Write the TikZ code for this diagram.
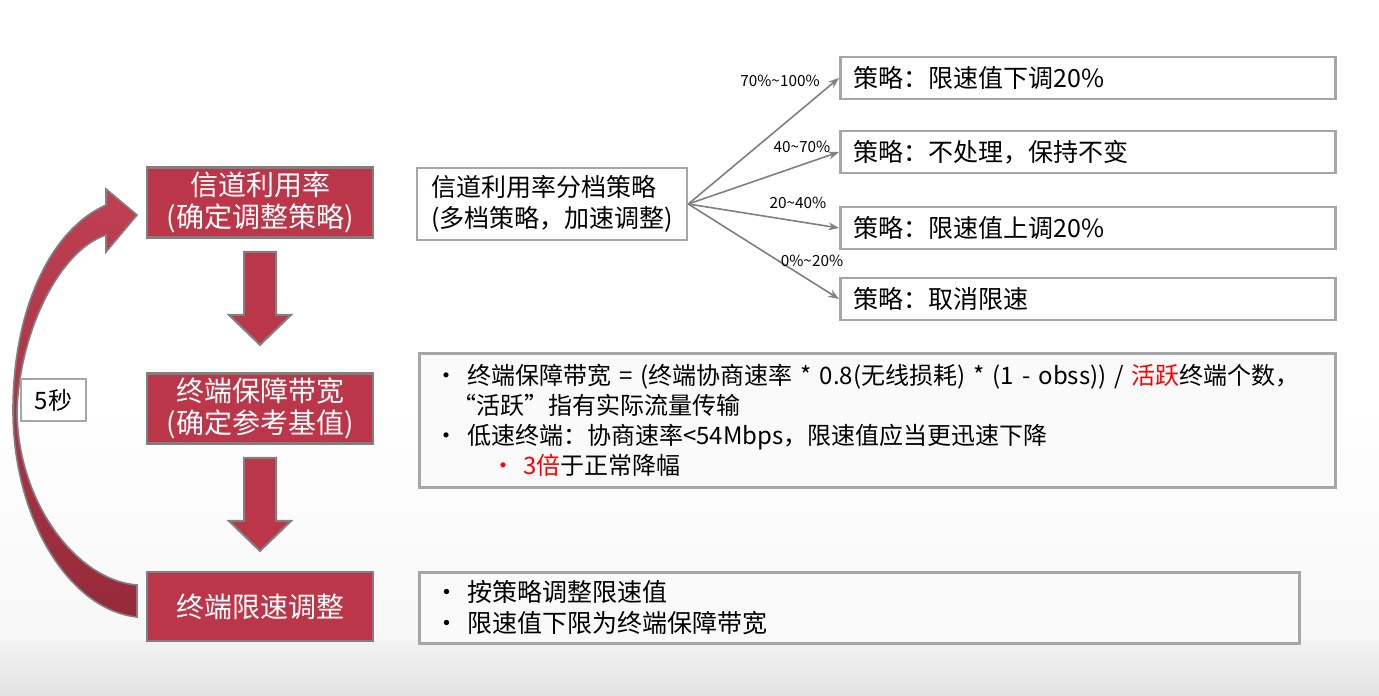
\documentclass[tikz,border=0pt]{standalone}
\usepackage{fontspec}
\setmainfont{Noto Sans CJK SC}
\usetikzlibrary{arrows.meta}
\definecolor{stagered}{RGB}{188,54,73}
\definecolor{stagereddark}{RGB}{150,42,58}
\definecolor{frame}{RGB}{128,128,128}
\definecolor{boxline}{RGB}{166,166,166}
\begin{document}
\begin{tikzpicture}[x=0.75pt, y=-0.75pt,
  stagebox/.style={draw=frame, line width=2pt, fill=stagered, text=white,
    minimum width=169.5pt, minimum height=51.75pt, align=center,
    font=\fontsize{21}{24}\selectfont},
  infobox/.style={draw=boxline, line width=2pt, fill=white, text=black, align=left,
    font=\fontsize{18.75}{23.25}\selectfont},
  rulebox/.style={infobox, minimum width=371.25pt, minimum height=31.5pt,
    text width=351.75pt, inner xsep=9.75pt, anchor=west},
  tierarrow/.style={-{Stealth[length=8pt,width=6pt]}, draw=frame, line width=1.2pt},
  tierlabel/.style={font=\fontsize{11.5}{12}\selectfont, inner sep=0pt},
  blockarrow/.style={fill=stagered, draw=frame, line width=1.5pt, line join=miter}]
  \useasboundingbox (0,0) rectangle (1379,696);

  % Background
  \fill[white] (0,0) rectangle (1379,696);
  \shade[top color=white, bottom color=black!3] (0,400) rectangle (1379,640);
  \shade[top color=black!5, bottom color=black!11] (0,640) rectangle (1379,696);

  % Stages
  \node[stagebox] (util) at (260,202.5) {信道利用率\\(确定调整策略)};
  \node[stagebox] (guard) at (260,408.5) {终端保障带宽\\(确定参考基值)};
  \node[stagebox] (limit) at (260,606.5) {终端限速调整};
  \foreach \a in {util,guard}
    \path[blockarrow, shift={(\a.south)}] (-16,13) -- (16,13) -- (16,76) -- (31,76)
      -- (0,106) -- (-31,76) -- (-16,76) -- cycle;

  % Loop back every 5 s
  \shade[top color=stagered!95!white, bottom color=stagereddark, draw=frame, line width=1.2pt]
    (137,617) .. controls (70,610) and (13,520) .. (13,410)
    .. controls (13,310) and (50,230) .. (106,205)
    -- (106,189) -- (137,215) -- (106,252) -- (106,235)
    .. controls (60,250) and (20,330) .. (17,410)
    .. controls (17,500) and (75,580) .. (137,585) -- cycle;
  \node[infobox, minimum width=48.75pt, minimum height=31.5pt, align=center,
    font=\fontsize{18}{20}\selectfont] (period) at (53.5,400) {5秒};

  % Tier strategy
  \node[infobox, minimum width=201pt, minimum height=54pt, inner xsep=10.5pt] (tier)
    at (552,204) {信道利用率分档策略\\(多档策略，加速调整)};
  \node[rulebox] (cut) at (839,78) {策略：限速值下调20\%};
  \node[rulebox] (keep) at (839,152) {策略：不处理，保持不变};
  \node[rulebox] (raise) at (839,228) {策略：限速值上调20\%};
  \node[rulebox] (free) at (839,299) {策略：取消限速};
  \foreach \b in {cut,keep,raise,free}
    \draw[tierarrow] (tier.east) -- (\b.west);
  \node[tierlabel] (lcut) at (780,81) {70\%\textasciitilde100\%};
  \node[tierlabel] (lkeep) at (802,147) {40\textasciitilde70\%};
  \node[tierlabel] (lraise) at (798,203) {20\textasciitilde40\%};
  \node[tierlabel] (lfree) at (812,261) {0\%\textasciitilde20\%};

  % Guarantee formula
  \node[infobox, anchor=north west, minimum width=687pt, minimum height=100.5pt,
    text width=664.5pt, inner xsep=11.25pt, fill=black!2,
    font=\fontsize{18}{22.5}\selectfont] (formula) at (418,352)
    {\mbox{\makebox[24.75pt][l]{•}终端保障带宽 = (终端协商速率 * 0.8(无线损耗) * (1 - obss)) / \textcolor{red}{活跃}终端个数，}\\
     \hspace*{13.5pt}“活跃”指有实际流量传输\\
     \makebox[24.75pt][l]{•}低速终端：协商速率<54Mbps，限速值应当更迅速下降\\
     \hspace*{42.75pt}\makebox[24pt][l]{\textcolor{red}{•}}\textcolor{red}{3倍}于正常降幅};

  % Adjustment
  \node[infobox, anchor=north west, minimum width=660pt, minimum height=53.25pt,
    text width=637.5pt, inner xsep=11.25pt, fill=black!2] (action) at (418,571)
    {\makebox[24.75pt][l]{•}按策略调整限速值\\
     \makebox[24.75pt][l]{•}限速值下限为终端保障带宽};
\end{tikzpicture}
\end{document}
